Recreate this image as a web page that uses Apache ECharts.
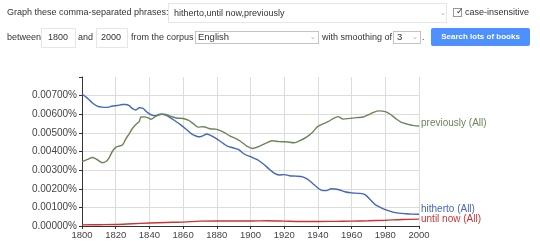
<!DOCTYPE html>
<html><head><meta charset="utf-8">
<script src="https://cdn.jsdelivr.net/npm/echarts@6/dist/echarts.min.js"></script>
<style>
html,body{margin:0;padding:0;background:#fff;width:540px;height:247px;overflow:hidden;font-family:"Liberation Sans",Arial,sans-serif;color:#333;}
#chart{position:absolute;left:0;top:0;width:540px;height:247px;}
.t{position:absolute;font-size:9px;white-space:nowrap;line-height:11px;z-index:2;}
.box{position:absolute;background:#fff;border:1px solid #e6e6e6;box-sizing:border-box;z-index:2;font-size:9px;line-height:11px;}
.sel{position:absolute;background:#fff;border:1px solid #c4c4c4;box-sizing:border-box;z-index:2;font-size:9px;}
.arr{position:absolute;font-size:7px;color:#aaa;z-index:3;}
.btn{position:absolute;background:#4d90fe;color:#fff;font-weight:bold;font-size:8px;text-align:center;border-radius:2px;z-index:2;}
</style></head>
<body>
<div id="chart"></div>
<div class="t" style="left:7px;top:7px;">Graph these comma-separated phrases:</div>
<div class="box" style="left:168px;top:3px;width:279px;height:20px;"></div>
<div class="t" style="left:174px;top:8px;">hitherto,until now,previously</div>
<div class="arr" style="left:440px;top:9px;">&#8964;</div>
<div style="position:absolute;left:453px;top:8px;width:9px;height:9px;border:1px solid #999;box-sizing:border-box;z-index:2;background:#fff;"></div>
<div class="t" style="left:453px;top:6px;font-size:9px;color:#333;">&nbsp;&#10003;</div>
<div class="t" style="left:465px;top:7px;">case-insensitive</div>

<div class="t" style="left:7px;top:32px;">between</div>
<div class="box" style="left:41px;top:28px;width:35px;height:20px;"></div>
<div class="t" style="left:48px;top:32px;">1800</div>
<div class="t" style="left:78px;top:32px;">and</div>
<div class="box" style="left:96px;top:28px;width:32px;height:20px;"></div>
<div class="t" style="left:101px;top:32px;">2000</div>
<div class="t" style="left:131px;top:32px;">from the corpus</div>
<div class="sel" style="left:195px;top:31px;width:124px;height:13px;"></div>
<div class="t" style="left:198px;top:31px;font-size:9.5px;">English</div>
<div class="arr" style="left:310px;top:33px;">&#8964;</div>
<div class="t" style="left:322px;top:32px;">with smoothing of</div>
<div class="sel" style="left:393px;top:31px;width:28px;height:13px;"></div>
<div class="t" style="left:397px;top:31px;font-size:9.5px;">3</div>
<div class="arr" style="left:412px;top:33px;">&#8964;</div>
<div class="t" style="left:422px;top:32px;">.</div>
<div class="btn" style="left:431px;top:28px;width:99px;height:18px;line-height:18px;">Search lots of books</div>

<script>
// Data (values in percent)
const hithertoYears = [1800,1803,1806,1809,1812,1815,1818,1821,1824,1826,1828,1830,1832,1834,1836,1838,1840,1842,1844,1847,1850,1853,1856,1859,1862,1865,1868,1870,1872,1874,1876,1878,1880,1882,1884,1886,1888,1890,1893,1896,1900,1904,1908,1911,1914,1917,1920,1923,1927,1931,1934,1937,1940,1943,1945,1948,1952,1956,1960,1965,1968,1971,1974,1977,1980,1984,1988,1992,1996,2000];
const hithertoValues = [0.00709,0.00688,0.00662,0.00644,0.00638,0.00637,0.00644,0.00647,0.00652,0.00652,0.00646,0.00630,0.00623,0.00635,0.00633,0.00616,0.00602,0.00594,0.00592,0.00600,0.00594,0.00578,0.00560,0.00540,0.00518,0.00495,0.00482,0.00479,0.00485,0.00494,0.00488,0.00479,0.00468,0.00455,0.00442,0.00430,0.00424,0.00419,0.00410,0.00388,0.00372,0.00356,0.00330,0.00306,0.00284,0.00274,0.00276,0.00270,0.00268,0.00264,0.00250,0.00227,0.00204,0.00190,0.00190,0.00200,0.00196,0.00184,0.00178,0.00175,0.00168,0.00142,0.00115,0.00100,0.00088,0.00076,0.00069,0.00066,0.00064,0.00063];

const untilNowYears = [1800,1810,1820,1830,1840,1850,1860,1870,1880,1890,1900,1910,1920,1930,1940,1950,1960,1970,1980,1990,2000];
const untilNowValues = [0.00006,0.00007,0.00008,0.00012,0.00016,0.00019,0.00021,0.00026,0.00027,0.00027,0.00027,0.00028,0.00026,0.00024,0.00024,0.00025,0.00026,0.00028,0.00031,0.00035,0.00037];

const previouslyYears = [1800,1802,1804,1806,1808,1810,1812,1814,1816,1818,1820,1822,1824,1826,1828,1830,1832,1834,1835,1837,1839,1841,1843,1846,1849,1852,1856,1860,1863,1866,1869,1872,1876,1880,1884,1888,1891,1894,1898,1901,1904,1907,1910,1913,1917,1921,1926,1929,1933,1937,1940,1943,1946,1949,1952,1955,1959,1963,1967,1970,1973,1976,1980,1983,1986,1989,1993,1997,2000];
const previouslyValues = [0.00345,0.00352,0.00360,0.00368,0.00362,0.00350,0.00340,0.00345,0.00365,0.00400,0.00422,0.00429,0.00435,0.00468,0.00495,0.00525,0.00545,0.00562,0.00585,0.00586,0.00582,0.00573,0.00585,0.00600,0.00600,0.00591,0.00580,0.00577,0.00568,0.00550,0.00531,0.00533,0.00522,0.00519,0.00504,0.00482,0.00470,0.00455,0.00428,0.00416,0.00424,0.00436,0.00448,0.00458,0.00453,0.00452,0.00447,0.00457,0.00476,0.00505,0.00535,0.00548,0.00560,0.00577,0.00587,0.00574,0.00578,0.00582,0.00585,0.00597,0.00610,0.00618,0.00614,0.00600,0.00578,0.00559,0.00547,0.00539,0.00537];

const seriesNames = ['hitherto (All)','until now (All)','previously (All)'];
const seriesColors = ['#4466bb','#cc3333','#6b8558'];
const xTicks = {min:1800,max:2000,step:20};
const yTicks = {min:0,max:0.008,step:0.001};

function pairs(xs, vs){ return xs.map((x,i)=>[x, vs[i]]); }

const chart = echarts.init(document.getElementById('chart'), null, {renderer:'canvas'});
const font = '"Liberation Sans", Arial, sans-serif';
const datasets = [pairs(hithertoYears,hithertoValues), pairs(untilNowYears,untilNowValues), pairs(previouslyYears,previouslyValues)];
const labelOffsets = [[0,-5],[0,0],[0,-3]];
chart.setOption({
  animation:false,
  grid:{left:82,right:121,top:77,bottom:21,containLabel:false},
  xAxis:{type:'value',min:xTicks.min,max:xTicks.max,interval:xTicks.step,
    axisLine:{show:true,lineStyle:{color:'#333',width:1}},
    axisTick:{show:true,length:3,lineStyle:{color:'#333'}},
    axisLabel:{color:'#444',fontSize:9.5,fontFamily:font,margin:4,formatter:v=>String(v)},
    splitLine:{show:true,lineStyle:{color:'#dcdcdc',width:1}}},
  yAxis:{type:'value',min:yTicks.min,max:yTicks.max,interval:yTicks.step,
    axisLine:{show:true,lineStyle:{color:'#333',width:1}},
    axisTick:{show:true,length:3,lineStyle:{color:'#333'}},
    axisLabel:{color:'#444',fontSize:10,fontFamily:font,margin:5,
      formatter:v=> v>yTicks.max-yTicks.step/2 ? '' : v.toFixed(5)+'%'},
    splitLine:{show:true,showMaxLine:false,lineStyle:{color:'#dcdcdc',width:1}}},
  series: datasets.map((d,i)=>({
    type:'line',name:seriesNames[i],data:d,showSymbol:false,smooth:0.3,
    lineStyle:{color:seriesColors[i],width:1.4},itemStyle:{color:seriesColors[i]},
    z: i===1?3:2,
    endLabel:{show:true,formatter:seriesNames[i],color:seriesColors[i],fontSize:10,fontFamily:font,distance:2,offset:labelOffsets[i]}
  }))
});
</script>
</body></html>
